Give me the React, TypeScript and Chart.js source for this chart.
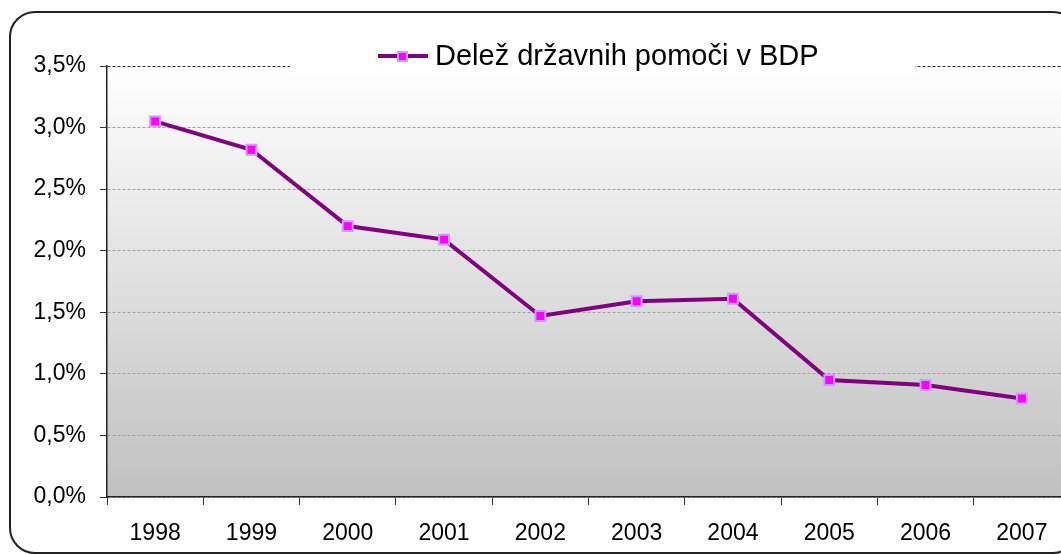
import React, { useEffect, useRef } from "react";
import { Chart, registerables } from "chart.js";

Chart.register(...registerables);

const years = ["1998", "1999", "2000", "2001", "2002", "2003", "2004", "2005", "2006", "2007"];
const shares = [3.05, 2.82, 2.2, 2.09, 1.47, 1.59, 1.61, 0.95, 0.91, 0.8];
const seriesName = "Delež državnih pomoči v BDP";
const yMin = 0;
const yMax = 3.5;
const yStep = 0.5;

const LINE = "#800080";
const MARKER_FILL = "#FF00FF";
const MARKER_BORDER = "#C99CFF";
const FONT = "'Liberation Sans', Arial, sans-serif";

const fmt = (v: number) => v.toFixed(1).replace(".", ",") + "%";

const bgPlugin = {
  id: "bgPlugin",
  beforeDraw(chart: any) {
    const { ctx, chartArea } = chart;
    ctx.save();
    ctx.fillStyle = "#ffffff";
    ctx.fillRect(0, 0, chart.width, chart.height);
    const g = ctx.createLinearGradient(0, chartArea.top, 0, chartArea.bottom);
    g.addColorStop(0, "#ffffff");
    g.addColorStop(1, "#c0c0c0");
    ctx.fillStyle = g;
    ctx.fillRect(chartArea.left, chartArea.top, chartArea.right - chartArea.left, chartArea.bottom - chartArea.top);
    ctx.restore();
  },
};

const legendPlugin = {
  id: "legendPlugin",
  afterDraw(chart: any) {
    const { ctx } = chart;
    const cy = 56;
    ctx.save();
    ctx.fillStyle = "#ffffff";
    ctx.fillRect(290, 36, 625, 40);
    ctx.strokeStyle = LINE;
    ctx.lineWidth = 4;
    ctx.beginPath();
    ctx.moveTo(378, cy);
    ctx.lineTo(428, cy);
    ctx.stroke();
    ctx.fillStyle = MARKER_BORDER;
    ctx.fillRect(397, cy - 5, 11, 11);
    ctx.fillStyle = MARKER_FILL;
    ctx.fillRect(399, cy - 3, 7, 7);
    ctx.fillStyle = "#000000";
    ctx.font = `29px ${FONT}`;
    ctx.textBaseline = "middle";
    ctx.textAlign = "left";
    ctx.fillText(seriesName, 435, cy + 1);
    ctx.restore();
  },
};

export default function App() {
  const ref = useRef<HTMLCanvasElement | null>(null);

  useEffect(() => {
    if (!ref.current) return;
    const chart = new Chart(ref.current, {
      type: "line",
      data: {
        labels: years,
        datasets: [
          {
            label: seriesName,
            data: shares,
            borderColor: LINE,
            borderWidth: 4,
            tension: 0,
            pointStyle: "rect",
            pointRadius: 7,
            pointBorderWidth: 2,
            pointBackgroundColor: MARKER_FILL,
            pointBorderColor: MARKER_BORDER,
          },
        ],
      },
      options: {
        responsive: false,
        animation: false,
        layout: { padding: { left: 0, top: 66, right: 30, bottom: 0 } },
        plugins: { legend: { display: false }, tooltip: { enabled: false } },
        scales: {
          x: {
            type: "category",
            offset: true,
            grid: {
              offset: true,
              drawOnChartArea: false,
              drawTicks: true,
              tickLength: 8,
              tickColor: "#333",
              lineWidth: 1,
            },
            border: { display: true, color: "#222", width: 1.5 },
            ticks: {
              color: "#000",
              font: { family: FONT, size: 23 },
              padding: 15,
              maxRotation: 0,
              autoSkip: false,
            },
            afterFit(scale: any) {
              scale.height = 57;
            },
          },
          y: {
            min: yMin,
            max: yMax,
            grid: {
              color: (ctx: any) => (ctx.tick && ctx.tick.value === yMax ? "#333" : "#a0a0a0"),
              lineWidth: 1,
              drawTicks: true,
              tickLength: 7,
              tickColor: "#333",
            },
            border: { display: true, color: "#222", width: 1.5, dash: [3, 2] },
            ticks: {
              stepSize: yStep,
              color: "#000",
              font: { family: FONT, size: 23 },
              padding: 14,
              callback: (v: any) => fmt(Number(v)),
            },
            afterFit(scale: any) {
              scale.width = 107;
            },
          },
        },
      },
      plugins: [bgPlugin, legendPlugin],
    });
    return () => chart.destroy();
  }, []);

  return (
    <div
      style={{
        position: "fixed",
        left: 0,
        top: 0,
        width: 1061,
        height: 554,
        overflow: "hidden",
        background: "#fff",
      }}
    >
      <canvas ref={ref} width={1100} height={554} style={{ position: "absolute", left: 0, top: 0 }} />
      <div
        style={{
          position: "absolute",
          left: 9,
          top: 11,
          width: 1066,
          height: 539,
          border: "2px solid #222",
          borderRadius: 26,
          pointerEvents: "none",
        }}
      />
    </div>
  );
}
